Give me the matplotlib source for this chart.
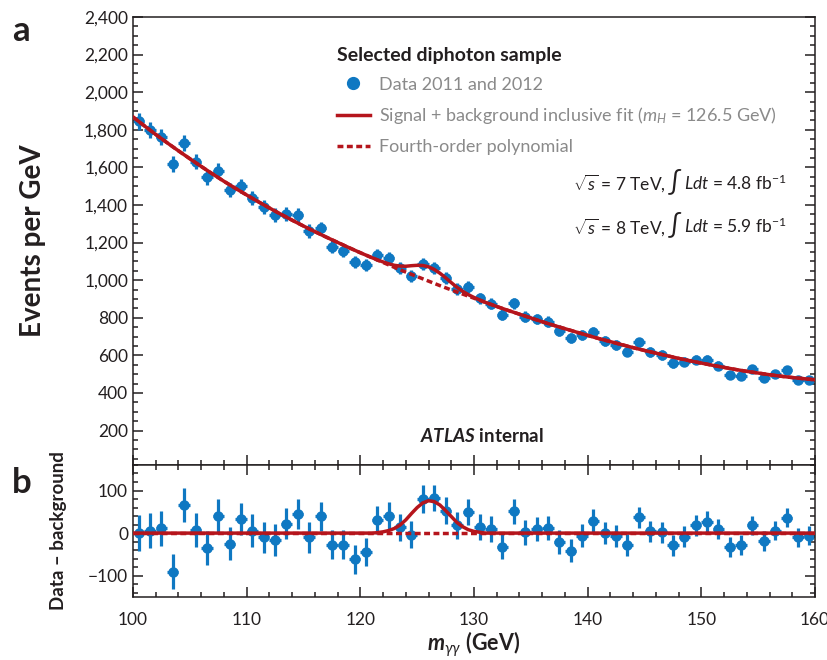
import numpy as np
import matplotlib
matplotlib.use('Agg')
import matplotlib.pyplot as plt
from matplotlib.lines import Line2D
from matplotlib.ticker import MultipleLocator, FuncFormatter
from matplotlib.offsetbox import TextArea, HPacker, AnchoredOffsetbox

plt.rcParams['font.family'] = ['Lato', 'DejaVu Sans']
plt.rcParams['mathtext.fontset'] = 'custom'
plt.rcParams['mathtext.rm'] = 'Lato'
plt.rcParams['mathtext.it'] = 'Lato:italic'
plt.rcParams['mathtext.bf'] = 'Lato:bold'
plt.rcParams['mathtext.bfit'] = 'Lato:bold:italic'

BLUE = '#0f78c2'
RED = '#b5151c'
INK = '#231f20'
GREY = '#8a8a8a'

# 1 GeV bins, 100-160 GeV
bin_lo = np.arange(100, 160)
events = [1844, 1799, 1761, 1617, 1729, 1631, 1548, 1583, 1480, 1502,
          1436, 1388, 1347, 1351, 1347, 1262, 1277, 1179, 1156, 1097,
          1081, 1135, 1117, 1064, 1023, 1085, 1064, 1011, 952, 963,
          904, 874, 815, 878, 806, 793, 780, 732, 691, 709,
          723, 677, 656, 620, 669, 618, 603, 559, 567, 576,
          576, 546, 496, 491, 527, 482, 500, 523, 470, 470]
events_err = [43, 42, 42, 41, 41, 40, 40, 39, 39, 38,
              38, 37, 37, 37, 36, 36, 35, 35, 34, 34,
              33, 33, 33, 32, 32, 32, 31, 31, 31, 30,
              30, 30, 29, 29, 29, 28, 28, 28, 27, 27,
              27, 26, 26, 26, 25, 25, 25, 25, 24, 24,
              24, 24, 23, 23, 23, 23, 22, 22, 22, 22]
residual = [0, 6, 11, -91, 66, 8, -36, 40, -25, 33,
            6, -10, -16, 22, 45, -10, 39, -27, -27, -61,
            -45, 31, 41, 14, -4, 80, 83, 53, 18, 49,
            14, 10, -32, 51, 2, 10, 11, -20, -41, -6,
            29, 0, -6, -28, 37, 4, 2, -29, -8, 18,
            27, 10, -32, -28, 18, -18, 6, 36, -10, -6]

# fourth-order polynomial background, read at each GeV
bkg_m = np.arange(100, 161)
bkg_fit = [1868, 1821, 1775, 1731, 1688, 1646, 1605, 1565, 1526, 1489,
           1453, 1418, 1384, 1351, 1319, 1288, 1258, 1229, 1201, 1173,
           1146, 1120, 1094, 1068, 1043, 1019, 995, 971, 948, 926,
           904, 882, 860, 839, 819, 799, 779, 760, 742, 724,
           706, 689, 673, 657, 641, 626, 612, 598, 584, 571,
           559, 547, 536, 525, 515, 506, 497, 489, 482, 476, 470]

# signal region, read every 0.5 GeV
sig_m = np.arange(121, 131.01, 0.5)
sig_bkg = [1120, 1107, 1094, 1081, 1068, 1056, 1043, 1031, 1019, 1007, 995,
           983, 971, 960, 948, 937, 926, 915, 904, 893, 882]
sig_bump = [0, 1, 3, 6, 11, 19, 31, 46, 60, 71, 76,
            74, 66, 53, 39, 25, 15, 8, 4, 2, 0]

mass = bin_lo + 0.5
bkg_fit = np.array(bkg_fit)
lo = bkg_m < 121
hi = bkg_m > 131
sb_m = np.concatenate([bkg_m[lo], sig_m, bkg_m[hi]])
sb_y = np.concatenate([bkg_fit[lo], np.add(sig_bkg, sig_bump), bkg_fit[hi]])
sb_res = np.concatenate([bkg_fit[lo] - bkg_fit[lo], sig_bump, bkg_fit[hi] - bkg_fit[hi]])

fig = plt.figure(figsize=(8.27, 6.6), dpi=100)
ax = fig.add_axes([0.1608, 0.2955, 0.8247, 0.6788])
axr = fig.add_axes([0.1608, 0.0955, 0.8247, 0.2], sharex=ax)

dash = (0, (1.7, 1.0))
err_kw = dict(fmt='o', color=BLUE, ms=6.5, elinewidth=2.3, capsize=0, zorder=2)
ax.errorbar(mass, events, yerr=events_err, xerr=0.5, **err_kw)
ax.plot(bkg_m, bkg_fit, color=RED, lw=2.5, ls=dash, zorder=3)
ax.plot(sb_m, sb_y, color=RED, lw=2.5, zorder=4)

axr.errorbar(mass, residual, yerr=events_err, xerr=0.5, **err_kw)
axr.plot(bkg_m, bkg_fit - bkg_fit, color=RED, lw=2.5, ls=dash, zorder=3)
axr.plot(sb_m, sb_res, color=RED, lw=2.5, zorder=4)

ax.set_xlim(100, 160)
ax.set_ylim(17, 2400)
axr.set_ylim(-150, 160)

for a in (ax, axr):
    for s in a.spines.values():
        s.set_linewidth(1.1)
        s.set_color(INK)
    a.xaxis.set_major_locator(MultipleLocator(10))
    a.xaxis.set_minor_locator(MultipleLocator(2))
    a.tick_params(which='both', direction='in', colors=INK, width=1.1,
                  labelsize=12.5, labelcolor=INK, right=True)
    a.tick_params(which='major', length=7)
    a.tick_params(which='minor', length=3.5)

ax.tick_params(which='both', top=False, labelbottom=False)
axr.tick_params(which='both', top=True)
axr.tick_params(axis='x', which='major', pad=11)
ax.yaxis.set_major_locator(MultipleLocator(200))
ax.yaxis.set_minor_locator(MultipleLocator(50))
ax.yaxis.set_major_formatter(FuncFormatter(lambda v, p: f'{int(v):,}'))
axr.yaxis.set_major_locator(MultipleLocator(100))
axr.yaxis.set_minor_locator(MultipleLocator(20))
axr.yaxis.set_major_formatter(FuncFormatter(lambda v, p: f'{int(v)}'.replace('-', '\u2212')))

ax.set_ylabel('Events per GeV', fontsize=20, fontweight='bold', color=INK)
axr.set_ylabel('Data \u2013 background', fontsize=13.5, fontweight='bold', color=INK)
axr.set_xlabel(r'$\mathbfit{m}_{\gamma\gamma}$ (GeV)', fontsize=15.5, fontweight='bold',
               color=INK, labelpad=1)
ax.yaxis.set_label_coords(-0.127, 0.5)
axr.yaxis.set_label_coords(-0.097, 0.5)

handles = [Line2D([], [], marker='o', ls='none', color=BLUE, ms=8.5),
           Line2D([], [], color=RED, lw=2.5),
           Line2D([], [], color=RED, lw=2.5, ls=dash)]
labels = ['Data 2011 and 2012',
          r'Signal + background inclusive fit ($m_H$ = 126.5 GeV)',
          'Fourth-order polynomial']
leg = ax.legend(handles, labels, title='Selected diphoton sample', loc='upper left',
                bbox_to_anchor=(0.286, 0.953), frameon=False, fontsize=13,
                labelcolor=GREY, handlelength=1.8, handletextpad=0.55,
                labelspacing=0.7, borderpad=0, alignment='left',
                title_fontproperties={'weight': 'bold', 'size': 14})
leg.get_title().set_color(INK)


def energy_box(text_a, text_b, y):
    tp = dict(size=12.5, color=INK)
    parts = [TextArea(text_a, textprops=tp),
             TextArea(r'$\int$', textprops=dict(size=19, color=INK)),
             TextArea(text_b, textprops=tp)]
    box = AnchoredOffsetbox(loc='center right', child=HPacker(children=parts, align='baseline', pad=0, sep=1),
                            bbox_to_anchor=(0.958, y), bbox_transform=ax.transAxes,
                            frameon=False, pad=0, borderpad=0)
    ax.add_artist(box)


energy_box(r'$\sqrt{s}$ = 7 TeV,', r'$L\mathit{dt}$ = 4.8 fb$^{-1}$', 0.632)
energy_box(r'$\sqrt{s}$ = 8 TeV,', r'$L\mathit{dt}$ = 5.9 fb$^{-1}$', 0.535)

ax.text(0.512, 0.065, r'$\mathbfit{ATLAS}$ internal', transform=ax.transAxes,
        ha='center', va='center', fontsize=13.5, fontweight='bold', color=INK)

fig.text(12 / 827, 1 - 31 / 660, 'a', fontsize=25, fontweight='bold', color=INK, va='center')
fig.text(12 / 827, 1 - 483 / 660, 'b', fontsize=25, fontweight='bold', color=INK, va='center')

fig.savefig('out.png', dpi=100)
